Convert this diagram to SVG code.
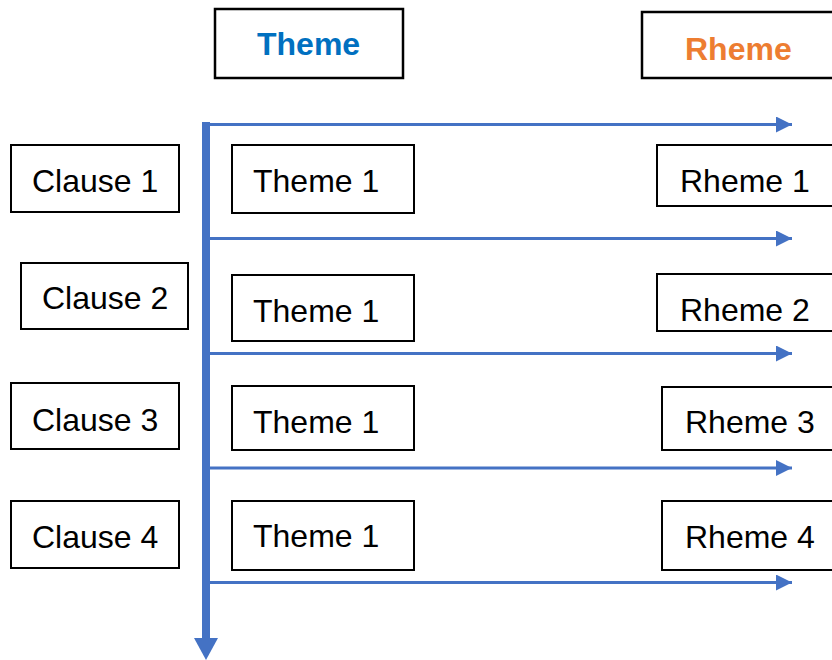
<svg xmlns="http://www.w3.org/2000/svg" width="832" height="660" viewBox="0 0 832 660">
<style>
.box{fill:#fff;stroke:#000;stroke-width:2}
.hbox{fill:#fff;stroke:#000;stroke-width:2.5}
.t{font-family:"Liberation Sans",Arial,sans-serif;font-size:32px;fill:#000}
.h{font-family:"Liberation Sans",Arial,sans-serif;font-size:32px;font-weight:bold}
.hl{stroke:#4472C4;stroke-width:3;fill:none}
</style>
<defs>
<marker id="ah" markerUnits="userSpaceOnUse" markerWidth="16" markerHeight="16" refX="16" refY="8" orient="auto">
<path d="M0,0 L16,8 L0,16 Z" fill="#4472C4"/>
</marker>
</defs>
<rect width="832" height="660" fill="#fff"/>
<g id="header-theme"><rect class="hbox" x="215" y="9" width="188" height="69"/><text class="h" x="257" y="55" fill="#0070C0">Theme</text></g>
<g id="header-rheme"><rect class="hbox" x="642" y="12" width="195" height="66"/><text class="h" x="685" y="60" fill="#ED7D31">Rheme</text></g>
<g id="connectors">
<line x1="206" y1="122" x2="206" y2="640" stroke="#4472C4" stroke-width="8"/>
<path d="M194,638 L218,638 L206,660 Z" fill="#4472C4"/>
<line class="hl" x1="206" y1="124.5" x2="792" y2="124.5" marker-end="url(#ah)"/>
<line class="hl" x1="206" y1="238.5" x2="792" y2="238.5" marker-end="url(#ah)"/>
<line class="hl" x1="206" y1="353.5" x2="792" y2="353.5" marker-end="url(#ah)"/>
<line class="hl" x1="206" y1="468" x2="792" y2="468" marker-end="url(#ah)"/>
<line class="hl" x1="206" y1="582.5" x2="792" y2="582.5" marker-end="url(#ah)"/>
</g>
<g id="clause1"><rect class="box" x="11" y="145" width="168" height="67"/><text class="t" x="32" y="192">Clause 1</text></g>
<g id="clause2"><rect class="box" x="21" y="263" width="167" height="66"/><text class="t" x="42" y="309">Clause 2</text></g>
<g id="clause3"><rect class="box" x="11" y="383" width="168" height="66"/><text class="t" x="32" y="431">Clause 3</text></g>
<g id="clause4"><rect class="box" x="11" y="501" width="168" height="67"/><text class="t" x="32" y="548">Clause 4</text></g>
<g id="theme1a"><rect class="box" x="232" y="145" width="182" height="68"/><text class="t" x="253" y="192">Theme 1</text></g>
<g id="theme1b"><rect class="box" x="232" y="275" width="182" height="66"/><text class="t" x="253" y="322">Theme 1</text></g>
<g id="theme1c"><rect class="box" x="232" y="386" width="182" height="64"/><text class="t" x="253" y="433">Theme 1</text></g>
<g id="theme1d"><rect class="box" x="232" y="501" width="182" height="69"/><text class="t" x="253" y="547">Theme 1</text></g>
<g id="rheme1"><rect class="box" x="657" y="145" width="185" height="61"/><text class="t" x="680" y="192">Rheme 1</text></g>
<g id="rheme2"><rect class="box" x="657" y="274" width="185" height="57"/><text class="t" x="680" y="321">Rheme 2</text></g>
<g id="rheme3"><rect class="box" x="662" y="387" width="180" height="63"/><text class="t" x="685" y="433">Rheme 3</text></g>
<g id="rheme4"><rect class="box" x="662" y="501" width="180" height="69"/><text class="t" x="685" y="548">Rheme 4</text></g>
</svg>
